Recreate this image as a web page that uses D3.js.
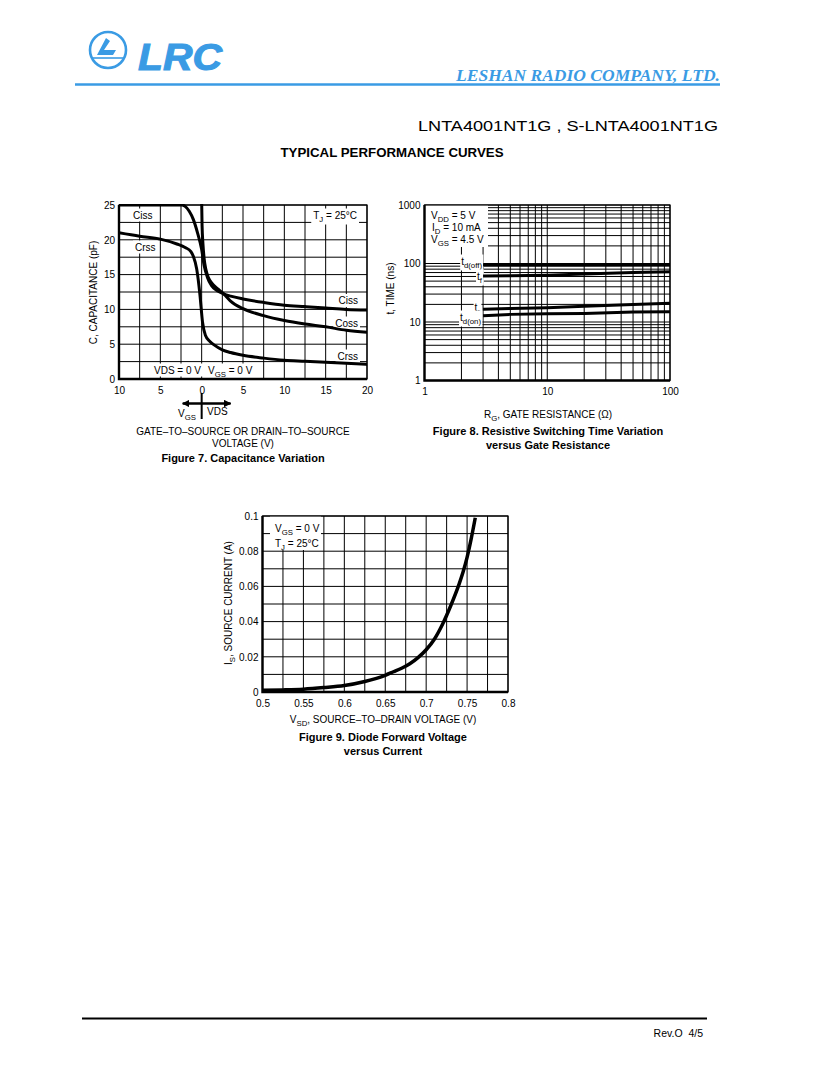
<!DOCTYPE html>
<html>
<head>
<meta charset="utf-8">
<script src="https://cdn.jsdelivr.net/npm/d3@7"></script>
<style>
  body { margin: 0; background: #fff; }
  svg { display: block; font-family: "Liberation Sans", Arial, sans-serif; }
</style>
</head>
<body>
<div id="page"></div>
<script>
// ---- data ----
// Figure 7: capacitance vs voltage (negative x = VGS side, positive = VDS side)
const capTicksX = [-10, -5, 0, 5, 10, 15, 20];
const capTicksY = [0, 5, 10, 15, 20, 25];
const ciss = [[-10, 25], [-5, 25], [-2.4, 25], [-2, 24.8], [-1.5, 24.1], [-1, 22.9], [-0.5, 21],
  [0, 18.6], [0.3, 16.3], [0.7, 14.6], [1.2, 13.4], [2, 12.6], [2.7, 12.2], [3.5, 11.9], [5, 11.5],
  [7.5, 11], [10, 10.6], [12.5, 10.4], [15, 10.2], [17.5, 10.0], [20, 9.9]];
const coss = [[0, 25.5], [0.05, 22], [0.15, 19.5], [0.3, 17.3], [0.5, 15.8], [0.8, 14.6], [1.2, 13.8],
  [2, 12.9], [2.7, 12.2], [3.5, 11.2], [5, 10.1], [7.5, 9.1], [10, 8.4], [12.5, 7.9], [15, 7.5],
  [17.5, 7.0], [20, 6.7]];
const crss = [[-10, 21], [-7.5, 20.5], [-5, 20.1], [-3, 19.4], [-2, 18.9], [-1.3, 18.3], [-1, 17.6],
  [-0.6, 15.8], [-0.2, 12], [0.1, 8.2], [0.45, 6.3], [1, 5.4], [1.5, 4.9], [2.5, 4.2], [3.5, 3.8],
  [5, 3.4], [7.5, 3.0], [10, 2.7], [12.5, 2.55], [15, 2.4], [17.5, 2.25], [20, 2.1]];

// Figure 8: switching times vs gate resistance
const rgOhm = [3, 5, 10, 20, 50, 100];
const tdOff = [95, 95, 95, 95, 96, 96];
const tFall = [61, 62, 63, 66, 70, 72];
const tRise = [16.5, 17, 17.5, 18.5, 20, 21];
const tdOn = [12.8, 13.5, 13.8, 14, 14.8, 15];
const rgTicks = [1, 10, 100];
const timeTicks = [1, 10, 100, 1000];

// Figure 9: diode forward voltage vs current
const vsd = [0.5, 0.525, 0.55, 0.575, 0.6, 0.625, 0.65, 0.66, 0.67, 0.68, 0.69, 0.7, 0.71, 0.72, 0.73, 0.74, 0.745, 0.75, 0.755, 0.76];
const isrc = [0.001, 0.0012, 0.0016, 0.0025, 0.0037, 0.006, 0.0095, 0.0115, 0.0135, 0.016, 0.0195, 0.024, 0.030, 0.0385, 0.049, 0.061, 0.068, 0.0765, 0.087, 0.099];
const vsdTicks = [0.5, 0.55, 0.6, 0.65, 0.7, 0.75, 0.8];
const isTicks = [0, 0.02, 0.04, 0.06, 0.08, 0.1];

const blue = "#3a9be4";

const svg = d3.select("#page").append("svg")
  .attr("width", 817).attr("height", 1079);

// text with subscripts: parts are strings or {sub: "..."}
function rich(g, x, y, parts, opt = {}) {
  const size = opt.size || 10;
  const t = g.append("text")
    .attr("x", x).attr("y", y)
    .attr("font-size", size)
    .attr("text-anchor", opt.anchor || "start")
    .attr("font-weight", opt.weight || "normal");
  if (opt.transform) t.attr("transform", opt.transform);
  let shift = 0;
  parts.forEach(p => {
    const isSub = typeof p !== "string";
    const s = isSub ? 3 : 0;
    const ts = t.append("tspan").attr("dy", s - shift).text(isSub ? p.sub : p);
    if (isSub) ts.attr("font-size", size * 0.78);
    shift = s;
  });
  if (opt.box) {
    const b = t.node().getBBox();
    const pad = opt.pad || 2;
    g.insert("rect", () => t.node())
      .attr("x", b.x - pad).attr("y", b.y - 1)
      .attr("width", b.width + pad * 2).attr("height", b.height + 2)
      .attr("fill", "#fff");
  }
  return t;
}

function styleAxis(g) {
  g.select(".domain").remove();
  g.attr("font-family", null).attr("font-size", 10);
  g.selectAll("text").attr("fill", "#000");
}

function frame(g, x0, x1, y0, y1) {
  g.append("rect").attr("x", x0).attr("y", y1)
    .attr("width", x1 - x0).attr("height", y0 - y1)
    .attr("fill", "none").attr("stroke", "#000").attr("stroke-width", 1.2);
  g.append("path").attr("d", `M${x0},${y1}V${y0}H${x1}`)
    .attr("fill", "none").attr("stroke", "#000").attr("stroke-width", 2.4);
}

// ---- header ----
const head = svg.append("g");
head.append("circle").attr("cx", 108).attr("cy", 50).attr("r", 18)
  .attr("fill", "none").attr("stroke", blue).attr("stroke-width", 2.6);
head.append("path")
  .attr("d", "M97,55 L106,38 L110,41 L104,50 L116,50 L113,55 Z")
  .attr("fill", blue);
head.append("path").attr("d", "M92,58 H124").attr("stroke", blue).attr("stroke-width", 1.6);
head.append("text").attr("x", 138).attr("y", 70)
  .attr("font-size", 36).attr("font-weight", "bold").attr("font-style", "italic")
  .attr("fill", blue).attr("textLength", 84).attr("lengthAdjust", "spacingAndGlyphs")
  .attr("stroke", blue).attr("stroke-width", 1)
  .text("LRC");
head.append("text").attr("x", 720).attr("y", 81).attr("text-anchor", "end")
  .attr("font-family", "'Liberation Serif', serif")
  .attr("font-size", 17).attr("font-weight", "bold").attr("font-style", "italic")
  .attr("fill", blue).attr("textLength", 264).attr("lengthAdjust", "spacingAndGlyphs")
  .text("LESHAN RADIO COMPANY, LTD.");
head.append("path").attr("d", "M75,84.5 H720").attr("stroke", blue).attr("stroke-width", 2.5);
head.append("text").attr("x", 718).attr("y", 131).attr("text-anchor", "end")
  .attr("font-size", 15.5).attr("textLength", 300).attr("lengthAdjust", "spacingAndGlyphs")
  .text("LNTA4001NT1G , S-LNTA4001NT1G");
head.append("text").attr("x", 392).attr("y", 157).attr("text-anchor", "middle")
  .attr("font-size", 12).attr("font-weight", "bold")
  .attr("textLength", 223).attr("lengthAdjust", "spacingAndGlyphs")
  .text("TYPICAL PERFORMANCE CURVES");

// ---- Figure 7 ----
const f7 = svg.append("g");
const x7 = d3.scaleLinear().domain([-10, 20]).range([119, 367]);
const y7 = d3.scaleLinear().domain([0, 25]).range([379, 205]);

f7.append("g").selectAll("line").data(d3.range(-10, 20.01, 2.5)).join("line")
  .attr("x1", d => x7(d)).attr("x2", d => x7(d)).attr("y1", y7(0)).attr("y2", y7(25))
  .attr("stroke", "#000").attr("stroke-width", 1);
f7.append("g").selectAll("line").data(d3.range(0, 25.01, 2.5)).join("line")
  .attr("y1", d => y7(d)).attr("y2", d => y7(d)).attr("x1", x7(-10)).attr("x2", x7(20))
  .attr("stroke", "#000").attr("stroke-width", 1);

f7.append("clipPath").attr("id", "clip7").append("rect")
  .attr("x", x7(-10)).attr("y", y7(25) - 1).attr("width", x7(20) - x7(-10)).attr("height", y7(0) - y7(25) + 1);

// labels with white boxes (drawn before curves so curves stay on top)
rich(f7, 133, 218.5, ["Ciss"], { box: true });
rich(f7, 135, 250.5, ["Crss"], { box: true });
rich(f7, 357, 218.5, ["T", { sub: "J" }, " = 25°C"], { anchor: "end", box: true });
rich(f7, 358, 304, ["Ciss"], { anchor: "end", box: true });
rich(f7, 358, 326.5, ["Coss"], { anchor: "end", box: true });
rich(f7, 358, 359.5, ["Crss"], { anchor: "end", box: true });
rich(f7, 154, 373.5, ["VDS = 0 V"], { box: true });
rich(f7, 208, 373.5, ["V", { sub: "GS" }, " = 0 V"], { box: true });

const line7 = d3.line().x(d => x7(d[0])).y(d => y7(d[1])).curve(d3.curveMonotoneX);
[ciss, coss, crss].forEach(s => {
  f7.append("path").datum(s).attr("d", line7).attr("clip-path", "url(#clip7)")
    .attr("fill", "none").attr("stroke", "#000").attr("stroke-width", 3)
    .attr("stroke-linejoin", "round");
});
frame(f7, x7(-10), x7(20), y7(0), y7(25));

f7.append("g").attr("transform", `translate(0,${y7(0)})`)
  .call(d3.axisBottom(x7).tickValues(capTicksX).tickFormat(d => Math.abs(d)).tickSize(0).tickPadding(8))
  .call(styleAxis);
f7.append("g").attr("transform", `translate(${x7(-10)},0)`)
  .call(d3.axisLeft(y7).tickValues(capTicksY).tickSize(0).tickPadding(4))
  .call(styleAxis);

rich(f7, 97, 292.5, ["C, CAPACITANCE (pF)"], { anchor: "middle", transform: "rotate(-90,97,292.5)" });

// VGS / VDS direction indicator
const defs = svg.append("defs");
defs.append("marker").attr("id", "ah").attr("viewBox", "0 0 10 10")
  .attr("refX", 9).attr("refY", 5).attr("markerWidth", 3).attr("markerHeight", 3)
  .attr("orient", "auto-start-reverse")
  .append("path").attr("d", "M0,0 L10,5 L0,10 Z").attr("fill", "#000");
f7.append("line").attr("x1", x7(0)).attr("x2", x7(0)).attr("y1", 393).attr("y2", 419)
  .attr("stroke", "#000").attr("stroke-width", 2);
f7.append("line").attr("x1", x7(-2.3)).attr("x2", x7(3.5)).attr("y1", 403.5).attr("y2", 403.5)
  .attr("stroke", "#000").attr("stroke-width", 2.5)
  .attr("marker-start", "url(#ah)").attr("marker-end", "url(#ah)");
rich(f7, 178, 416.5, ["V", { sub: "GS" }]);
rich(f7, 207, 414.5, ["VDS"]);
f7.append("text").attr("x", 243).attr("y", 434.5).attr("text-anchor", "middle").attr("font-size", 10)
  .text("GATE–TO–SOURCE OR DRAIN–TO–SOURCE");
f7.append("text").attr("x", 243).attr("y", 446.5).attr("text-anchor", "middle").attr("font-size", 10)
  .text("VOLTAGE (V)");
f7.append("text").attr("x", 243).attr("y", 461.5).attr("text-anchor", "middle").attr("font-size", 11)
  .attr("font-weight", "bold").text("Figure 7. Capacitance Variation");

// ---- Figure 8 ----
const f8 = svg.append("g");
const x8 = d3.scaleLog().domain([1, 100]).range([424.5, 670]);
const y8 = d3.scaleLog().domain([1, 1000]).range([380.5, 205]);
const logGrid = (lo, hi) => {
  const v = [];
  for (let p = lo; p < hi; p *= 10) for (let k = 1; k < 10; k++) v.push(p * k);
  v.push(hi);
  return v;
};
f8.append("g").selectAll("line").data(logGrid(1, 100)).join("line")
  .attr("x1", d => x8(d)).attr("x2", d => x8(d)).attr("y1", y8(1)).attr("y2", y8(1000))
  .attr("stroke", "#000").attr("stroke-width", 1);
f8.append("g").selectAll("line").data(logGrid(1, 1000)).join("line")
  .attr("y1", d => y8(d)).attr("y2", d => y8(d)).attr("x1", x8(1)).attr("x2", x8(100))
  .attr("stroke", "#000").attr("stroke-width", 1);

// condition box
f8.append("rect").attr("x", x8(1)).attr("y", y8(1000))
  .attr("width", 488 - x8(1)).attr("height", 247 - y8(1000)).attr("fill", "#fff");
rich(f8, 431, 218.5, ["V", { sub: "DD" }, " = 5 V"]);
rich(f8, 432, 230.5, ["I", { sub: "D" }, " = 10 mA"]);
rich(f8, 431, 243, ["V", { sub: "GS" }, " = 4.5 V"]);
rich(f8, 482, 264.5, ["t", { sub: "d(off)" }], { anchor: "end", box: true, pad: 1 });
rich(f8, 482, 279.5, ["t", { sub: "f" }], { anchor: "end", box: true, pad: 1 });
rich(f8, 480, 310.5, ["t", { sub: "r" }], { anchor: "end", box: true, pad: 1 });
rich(f8, 481, 320.5, ["t", { sub: "d(on)" }], { anchor: "end", box: true, pad: 1 });

const line8 = d3.line().x((d, i) => x8(rgOhm[i])).y(d => y8(d));
[tdOff, tFall, tRise, tdOn].forEach(s => {
  f8.append("path").datum(s).attr("d", line8)
    .attr("fill", "none").attr("stroke", "#000").attr("stroke-width", 3);
});
frame(f8, x8(1), x8(100), y8(1), y8(1000));

f8.append("g").attr("transform", `translate(0,${y8(1)})`)
  .call(d3.axisBottom(x8).tickValues(rgTicks).tickFormat(d3.format("d")).tickSize(0).tickPadding(7))
  .call(styleAxis);
f8.append("g").attr("transform", `translate(${x8(1)},0)`)
  .call(d3.axisLeft(y8).tickValues(timeTicks).tickFormat(d3.format("d")).tickSize(0).tickPadding(4))
  .call(styleAxis);
rich(f8, 394, 288.5, ["t, TIME (ns)"], { anchor: "middle", transform: "rotate(-90,394,288.5)" });
rich(f8, 548, 417.5, ["R", { sub: "G" }, ", GATE RESISTANCE (Ω)"], { anchor: "middle" });
f8.append("text").attr("x", 548).attr("y", 435).attr("text-anchor", "middle").attr("font-size", 11)
  .attr("font-weight", "bold").text("Figure 8. Resistive Switching Time Variation");
f8.append("text").attr("x", 548).attr("y", 449).attr("text-anchor", "middle").attr("font-size", 11)
  .attr("font-weight", "bold").text("versus Gate Resistance");

// ---- Figure 9 ----
const f9 = svg.append("g");
const x9 = d3.scaleLinear().domain([0.5, 0.8]).range([262.5, 508]);
const y9 = d3.scaleLinear().domain([0, 0.1]).range([692, 516]);
f9.append("g").selectAll("line").data(d3.range(0, 13).map(i => 0.5 + i * 0.025)).join("line")
  .attr("x1", d => x9(d)).attr("x2", d => x9(d)).attr("y1", y9(0)).attr("y2", y9(0.1))
  .attr("stroke", "#000").attr("stroke-width", 1);
f9.append("g").selectAll("line").data(d3.range(0, 11).map(i => i * 0.01)).join("line")
  .attr("y1", d => y9(d)).attr("y2", d => y9(d)).attr("x1", x9(0.5)).attr("x2", x9(0.8))
  .attr("stroke", "#000").attr("stroke-width", 1);
f9.append("rect").attr("x", 270).attr("y", y9(0.1))
  .attr("width", 51).attr("height", 550 - y9(0.1)).attr("fill", "#fff");
rich(f9, 275, 532, ["V", { sub: "GS" }, " = 0 V"]);
rich(f9, 275, 546.5, ["T", { sub: "J" }, " = 25°C"]);

f9.append("clipPath").attr("id", "clip9").append("rect")
  .attr("x", x9(0.5)).attr("y", y9(0.1)).attr("width", x9(0.8) - x9(0.5)).attr("height", y9(0) - y9(0.1));
const line9 = d3.line().x((d, i) => x9(vsd[i])).y(d => y9(d)).curve(d3.curveMonotoneX);
f9.append("path").datum(isrc).attr("d", line9).attr("clip-path", "url(#clip9)")
  .attr("fill", "none").attr("stroke", "#000").attr("stroke-width", 3.5);
frame(f9, x9(0.5), x9(0.8), y9(0), y9(0.1));

f9.append("g").attr("transform", `translate(0,${y9(0)})`)
  .call(d3.axisBottom(x9).tickValues(vsdTicks).tickFormat(d => +d.toFixed(2)).tickSize(0).tickPadding(8))
  .call(styleAxis);
f9.append("g").attr("transform", `translate(${x9(0.5)},0)`)
  .call(d3.axisLeft(y9).tickValues(isTicks).tickFormat(d => +d.toFixed(2)).tickSize(0).tickPadding(4))
  .call(styleAxis);
rich(f9, 232, 603, ["I", { sub: "S" }, ", SOURCE CURRENT (A)"], { anchor: "middle", transform: "rotate(-90,232,603)" });
rich(f9, 383, 723, ["V", { sub: "SD" }, ", SOURCE–TO–DRAIN VOLTAGE (V)"], { anchor: "middle" });
f9.append("text").attr("x", 383).attr("y", 741).attr("text-anchor", "middle").attr("font-size", 11)
  .attr("font-weight", "bold").text("Figure 9. Diode Forward Voltage");
f9.append("text").attr("x", 383).attr("y", 755).attr("text-anchor", "middle").attr("font-size", 11)
  .attr("font-weight", "bold").text("versus Current");

// ---- footer ----
svg.append("path").attr("d", "M82,1018.5 H707").attr("stroke", "#000").attr("stroke-width", 2);
svg.append("text").attr("x", 703).attr("y", 1037).attr("text-anchor", "end").attr("font-size", 10.5)
  .text("Rev.O\u00a0\u00a04/5");
</script>
</body>
</html>
